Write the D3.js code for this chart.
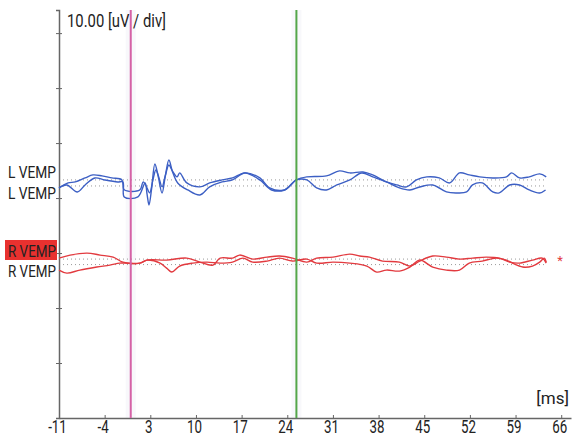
<!DOCTYPE html>
<html>
<head>
<meta charset="utf-8">
<script src="https://cdn.jsdelivr.net/npm/d3@7"></script>
<style>
    body { margin: 0; background: #fff; }
    text { font-family: Roboto, "Liberation Sans", sans-serif; fill: #222; }
</style>
</head>
<body>
<script>
//tick labels on the time axis (ms)
var xTicks = [-11, -4, 3, 10, 17, 24, 31, 38, 45, 52, 59, 66];
//amplitude ticks, 10 uV per division
var yTicks = [10, 20, 30, 40, 50, 60, 70];

//marker positions (ms)
var stimMs = 0,
    cursorMs = 25.4;

//trace baselines (uV on the axis)
var blueBase = [43.3, 42.2],
    redBase = [28.9, 27.9];

//traces: [ms, uV relative to own baseline]
var lVempA = [[-11,-1.45],[-9.6,-0.55],[-8.5,-0.36],[-7,0.36],[-5.8,0.91],[-4.4,0.73],[-2.9,0.36],[-1.35,0],[-1,-1.8],[1.4,-1.8],[1.9,-0.36],[2.4,-1.2],[2.9,-2.36],[3.4,0],[3.85,1.8],[4.3,0.5],[4.8,-1.27],[5.3,0.8],[5.85,2.7],[6.4,1.6],[7.1,0.55],[7.5,1.27],[8.6,-0.55],[10.6,-1.27],[12.1,-0.55],[14,0],[15.6,0.36],[17.5,1.27],[19.8,0.36],[21.3,-1.45],[23.6,-1.8],[25.4,0],[27,0.55],[30,0.73],[32,1.64],[33.6,1.27],[35.6,1.45],[37.1,0.91],[39.2,-0.36],[40.8,-0.91],[42.3,-1.27],[43.8,0],[45.4,0.55],[47.3,0.36],[48.9,-0.55],[50.4,1.27],[51.9,0.91],[53.5,0.55],[55.5,0.36],[57.6,0.55],[58.4,1.27],[59.6,0.36],[61.1,0.55],[62.7,1.09],[63.7,0.55]];
var lVempB = [[-11,-0.36],[-9.8,0.18],[-8.2,-1.09],[-7,0.18],[-5.5,1.45],[-4,1.09],[-2,0.73],[-1.2,0.73],[-1,-2],[1.1,-2],[2.2,0.55],[2.5,-1.5],[2.8,-3.45],[3.2,-0.5],[3.7,4],[4.2,1.8],[4.8,-1.27],[5.3,1.8],[5.85,4.73],[6.4,2.6],[7.2,0.55],[8.75,-0.73],[10.6,-1.64],[12.1,-0.18],[14,0.73],[15.6,1.09],[17.5,2.36],[19.8,1.09],[21.6,-0.73],[23.6,-0.73],[25.4,1.09],[27,1.09],[28.5,-0.36],[30,-0.73],[31.6,0.18],[33.6,1.09],[35.4,2.36],[37.1,1.64],[39.2,0.73],[41.2,-0.36],[42.8,-0.73],[44.3,-0.18],[46.3,0.18],[48.4,-1.09],[49.9,-1.27],[51.5,-1.09],[52.4,0.18],[53.9,0.55],[55.5,-1.09],[56.5,-1.27],[58.1,0.18],[59.6,0.18],[61.1,-0.73],[62.7,-1.27],[63.6,-0.73]];
var rVempA = [[-11,0.18],[-9.3,0.73],[-6.7,1.09],[-4.7,0.73],[-2.7,0.36],[-1.2,-0.55],[1.4,-0.73],[2.5,-0.18],[5.5,-0.18],[8.6,0.18],[10.6,-0.55],[12.6,-1.09],[13.7,0.18],[15.6,0.18],[16.7,0.73],[18.7,0],[20.9,0.36],[22.8,0.55],[24.8,0.18],[27,-0.55],[28.5,0.18],[31,0.36],[33.6,0.91],[35.1,0.55],[36.6,0.36],[38.6,-0.36],[41.2,-0.55],[42.8,-1.27],[44.3,-0.36],[46.3,0.55],[48.4,0.36],[50.4,0],[52.4,0.18],[54.5,0.36],[56.5,0.18],[58.1,-0.55],[59.6,-0.73],[61.6,-0.18],[63.1,0.18],[63.7,-0.73]];
var rVempB = [[-11,-1],[-9.8,-1.55],[-7.8,-1],[-5.2,-0.45],[-3.2,-0.09],[-1.7,0.27],[-1,0.27],[1.4,0.27],[2.5,0.82],[4.5,0.27],[5.5,-0.64],[6.3,-1.36],[7.5,-0.27],[9.5,0.27],[11.7,0.45],[13.7,0.27],[15.6,0.45],[17.2,1.18],[18.7,0.45],[20.9,0.64],[22.8,1.18],[24.8,0.64],[27,1],[28.5,0.27],[31,0.45],[33.6,0.27],[36.2,-0.27],[37.7,-1.36],[39.2,-1],[41.2,-1.18],[42.8,-0.45],[44.3,0.82],[46.3,-0.45],[48.4,-1],[50.4,-1],[51.9,0.27],[53.9,0.64],[56,1.18],[57.6,0.82],[58.5,0.27],[60.1,-0.45],[61.6,-0.27],[62.7,0.45],[63.4,1.18],[63.7,0.45]];

var width = 576,
    height = 439;

var svg = d3.select("body")
    .append("svg")
    .attr("width", width)
    .attr("height", height);

var x = d3.scaleLinear().domain([-11, 67.5]).range([59, 571]);
var y = d3.scaleLinear().domain([0, 74.2]).range([418, 10]);

//squeeze text to look condensed
function narrow(sel, k) {
    sel.each(function () {
        var w = this.getComputedTextLength();
        d3.select(this).attr("textLength", w * k).attr("lengthAdjust", "spacingAndGlyphs");
    });
}

//faint bands behind the markers
[stimMs, cursorMs].forEach(function (m) {
    svg.append("rect")
        .attr("x", x(m) - 5)
        .attr("y", y(74.2))
        .attr("width", 10)
        .attr("height", y(0) - y(74.2))
        .attr("fill", "#f8f8fb");
});

//dotted baselines
blueBase.concat(redBase).forEach(function (b) {
    svg.append("line")
        .attr("x1", x(-11)).attr("x2", x(63.7))
        .attr("y1", y(b)).attr("y2", y(b))
        .attr("stroke", "#999")
        .attr("stroke-width", 1)
        .attr("stroke-dasharray", "1,3");
});

//y axis
var yAxis = d3.axisLeft(y).tickValues(yTicks).tickSize(3).tickFormat("");
var gy = svg.append("g").attr("transform", "translate(" + x(-11) + ",0)").call(yAxis);
gy.select(".domain").attr("stroke", "#666").attr("stroke-width", 1.5);
gy.selectAll(".tick line").attr("stroke", "#666").attr("x2", -3).attr("x1", 3);

//x axis
var xAxis = d3.axisBottom(x)
    .tickValues(xTicks)
    .tickSize(-3)
    .tickPadding(2)
    .tickSizeOuter(0)
    .tickFormat(function (d) { return String(d); });
var gx = svg.append("g").attr("transform", "translate(0," + y(0) + ")").call(xAxis);
gx.select(".domain").attr("stroke", "#666").attr("stroke-width", 1.5);
gx.selectAll(".tick line").attr("stroke", "#666");
gx.selectAll(".tick text")
    .attr("font-size", 18)
    .attr("font-family", "Roboto, sans-serif")
    .attr("fill", "#222")
    .attr("dx", -2)
    .call(narrow, 0.74);

//traces
function drawTrace(data, base, color) {
    var line = d3.line()
        .curve(d3.curveCatmullRom.alpha(0.5))
        .x(function (d) { return x(d[0]); })
        .y(function (d) { return y(base + d[1]); });
    svg.append("path")
        .datum(data)
        .attr("d", line)
        .attr("fill", "none")
        .attr("stroke", color)
        .attr("stroke-width", 1.4)
        .attr("stroke-linejoin", "round");
}
drawTrace(lVempA, blueBase[0], "#3c5fc4");
drawTrace(lVempB, blueBase[1], "#3c5fc4");
drawTrace(rVempA, redBase[0], "#e23a3f");
drawTrace(rVempB, redBase[1], "#e23a3f");

//marker lines
svg.append("line")
    .attr("x1", x(stimMs)).attr("x2", x(stimMs))
    .attr("y1", y(74.2)).attr("y2", y(0))
    .attr("stroke", "#d562a6").attr("stroke-width", 2);
svg.append("line")
    .attr("x1", x(cursorMs)).attr("x2", x(cursorMs))
    .attr("y1", y(74.2)).attr("y2", y(0))
    .attr("stroke", "#54a64a").attr("stroke-width", 2);

//scale label
svg.append("text")
    .attr("x", 67).attr("y", 27)
    .attr("font-size", 18)
    .attr("textLength", 99)
    .attr("lengthAdjust", "spacingAndGlyphs")
    .text("10.00 [uV / div]");

svg.append("text")
    .attr("x", 569).attr("y", 404)
    .attr("text-anchor", "end")
    .attr("font-size", 17)
    .call(narrow, 0.8)
    .text("[ms]");

//trace labels
svg.append("rect")
    .attr("x", 5).attr("y", 240)
    .attr("width", 52).attr("height", 20)
    .attr("fill", "#e8312f");

var labels = [
    { t: "L VEMP", b: blueBase[0], dy: -2 },
    { t: "L VEMP", b: blueBase[1], dy: 13 },
    { t: "R VEMP", b: redBase[0], dy: -2 },
    { t: "R VEMP", b: redBase[1], dy: 12 }
];
labels.forEach(function (l) {
    svg.append("text")
        .attr("x", 8)
        .attr("y", y(l.b) + l.dy)
        .attr("font-size", 17)
        .attr("textLength", 48)
        .attr("lengthAdjust", "spacingAndGlyphs")
        .text(l.t);
});

svg.append("text")
    .attr("x", 560).attr("y", y(redBase[0]) + 6)
    .attr("text-anchor", "middle")
    .attr("font-size", 13)
    .style("fill", "#e23a3f")
    .text("*");
</script>
</body>
</html>
